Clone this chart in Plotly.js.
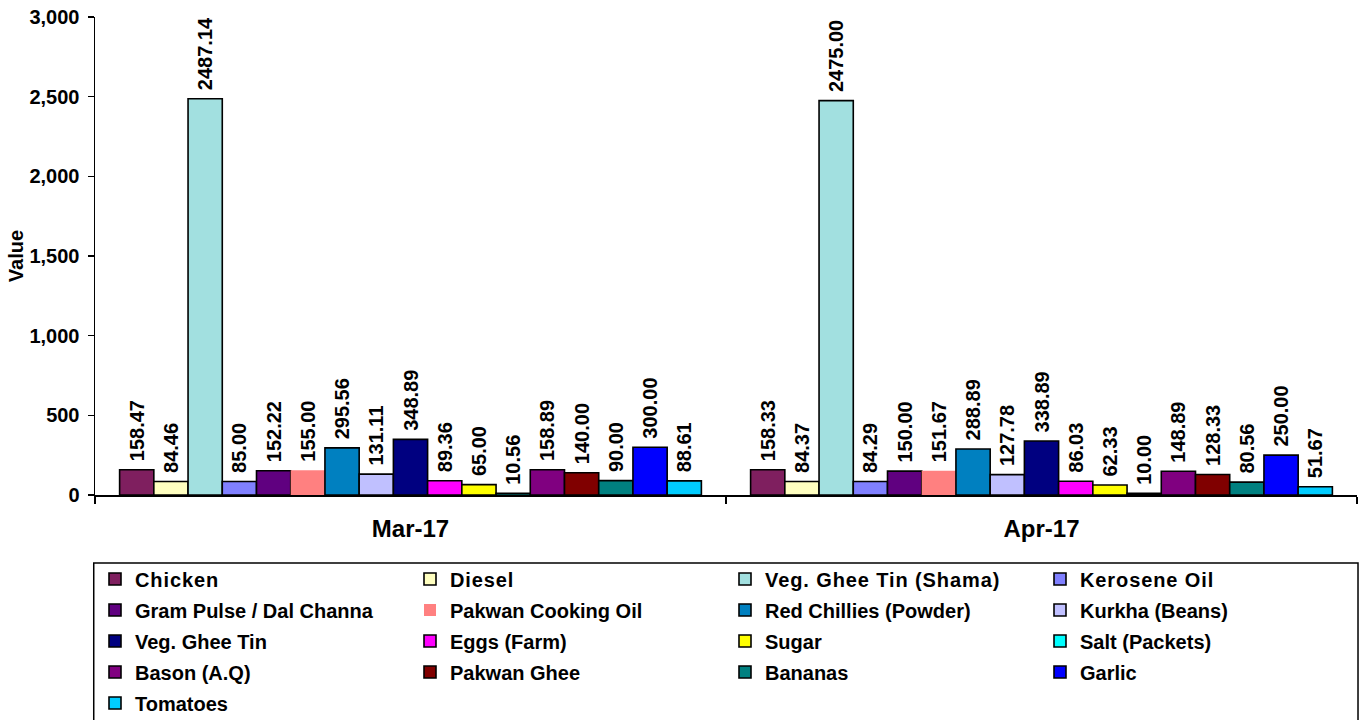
<!DOCTYPE html>
<html><head><meta charset="utf-8">
<script src="https://cdn.plot.ly/plotly-3.0.1.min.js"></script>
<style>html,body{margin:0;padding:0;background:#fff}#chart{width:1362px;height:720px}
#chart .legendtext{letter-spacing:0.9px}</style>
</head><body><div id="chart"></div>
<script>
const categories = ['Mar-17', 'Apr-17'];
const seriesNames = ['Chicken', 'Diesel', 'Veg. Ghee Tin (Shama)', 'Kerosene Oil',
  'Gram Pulse / Dal Channa', 'Pakwan Cooking Oil', 'Red Chillies (Powder)', 'Kurkha (Beans)',
  'Veg. Ghee Tin', 'Eggs (Farm)', 'Sugar', 'Salt (Packets)',
  'Bason (A.Q)', 'Pakwan Ghee', 'Bananas', 'Garlic', 'Tomatoes'];
const marValues = [158.47, 84.46, 2487.14, 85.00, 152.22, 155.00, 295.56, 131.11, 348.89, 89.36, 65.00, 10.56, 158.89, 140.00, 90.00, 300.00, 88.61];
const aprValues = [158.33, 84.37, 2475.00, 84.29, 150.00, 151.67, 288.89, 127.78, 338.89, 86.03, 62.33, 10.00, 148.89, 128.33, 80.56, 250.00, 51.67];
const seriesColors = ['#7F1F5F', '#FFFFC0', '#A2E0E0', '#8080FF', '#600080', '#FF8080', '#0080C0', '#C0C0FF',
  '#000080', '#FF00FF', '#FFFF00', '#00FFFF', '#800080', '#800000', '#008080', '#0000FF', '#00CCFF'];
const noBorder = ['Pakwan Cooking Oil'];
const yTickValues = [0, 500, 1000, 1500, 2000, 2500, 3000];

const FONT = 'Liberation Sans, Arial, sans-serif';
const legendIds = ['legend', 'legend2', 'legend3', 'legend4', 'legend5'];

const traces = seriesNames.map((name, i) => ({
  type: 'bar',
  name: name,
  x: categories,
  y: [marValues[i], aprValues[i]],
  marker: {color: seriesColors[i], line: {color: '#000', width: noBorder.includes(name) ? 0 : 1.6}},
  texttemplate: '\u00A0%{y:.2f}',
  textposition: 'outside',
  textangle: -90,
  constraintext: 'none',
  textfont: {family: FONT, size: 20, weight: 'bold', color: '#000'},
  cliponaxis: false,
  legend: legendIds[Math.floor(i / 4)],
  hoverinfo: 'name+y'
}));

const W = 1362, H = 720;
const plotTop = 17, plotBottom = 495, plotH = plotBottom - plotTop;
const py = px => (plotBottom - px) / plotH;
const cy = px => 1 - px / H;
const rowY = [579, 610, 641, 672, 703];

const layout = {
  width: W, height: H,
  margin: {l: 95, r: 5, t: plotTop, b: H - plotBottom, autoexpand: false},
  paper_bgcolor: '#fff', plot_bgcolor: '#fff',
  barmode: 'group', bargap: 0.078, bargroupgap: 0,
  font: {family: FONT, color: '#000'},
  xaxis: {
    type: 'category', showline: true, linecolor: '#000', linewidth: 1.5,
    ticks: 'outside', tickson: 'boundaries', ticklen: 7, tickcolor: '#000', tickwidth: 1.5,
    tickfont: {family: FONT, size: 24, weight: 'bold', color: '#000'},
    ticklabelstandoff: 12, showgrid: false, zeroline: false
  },
  yaxis: {
    range: [0, 3000], tickvals: yTickValues, tickformat: ',d',
    showline: true, linecolor: '#000', linewidth: 1.5,
    ticks: 'outside', ticklen: 6, tickcolor: '#000', tickwidth: 1.5,
    tickfont: {family: FONT, size: 20, weight: 'bold', color: '#000'},
    ticklabelstandoff: 4,
    showgrid: false, zeroline: false,
    title: {text: 'Value', font: {family: FONT, size: 20, weight: 'bold', color: '#000'}, standoff: 0}
  },
  shapes: [{
    type: 'rect', xref: 'paper', yref: 'paper',
    x0: -0.001, x1: 1.0008, y0: py(563), y1: py(740),
    line: {color: '#000', width: 1.5}, fillcolor: 'rgba(0,0,0,0)'
  }],
  showlegend: true
};
legendIds.forEach((id, r) => {
  layout[id] = {
    orientation: 'h', x: 0, xanchor: 'left', xref: 'paper',
    y: cy(rowY[r]), yanchor: 'middle', yref: 'container',
    entrywidth: 270, entrywidthmode: 'pixels',
    bgcolor: 'rgba(0,0,0,0)', borderwidth: 0,
    font: {family: FONT, size: 20, weight: 'bold', color: '#000'},
    traceorder: 'normal'
  };
});

Plotly.newPlot('chart', traces, layout, {displayModeBar: false, staticPlot: true});
</script></body></html>
